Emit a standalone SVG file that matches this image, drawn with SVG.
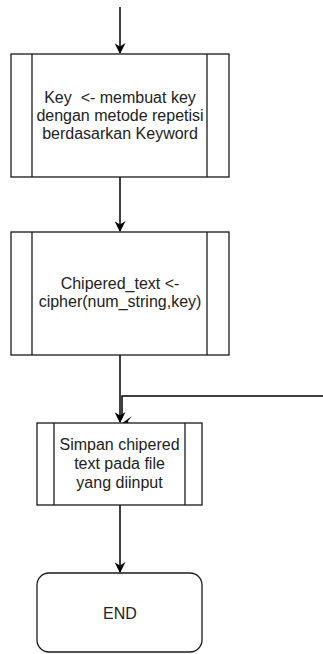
<svg xmlns="http://www.w3.org/2000/svg" width="323" height="654" viewBox="0 0 323 654">
<defs>
<style>
.box{fill:#fff;stroke:#1a1a1a;stroke-width:1.3}
.in{stroke:#1a1a1a;stroke-width:1.3}
.t{font-family:"Liberation Sans",Arial,sans-serif;font-size:16px;fill:#222;text-anchor:middle}
.c{fill:none;stroke:#000;stroke-width:1.5}
</style>
<marker id="ah" viewBox="0 0 10 10" refX="9" refY="5" markerWidth="11" markerHeight="11" markerUnits="userSpaceOnUse" orient="auto">
<path d="M0,0 L10,5 L0,10 L3,5 Z" fill="#000"/>
</marker>
</defs>
<rect width="323" height="654" fill="#fff"/>
<g id="connectors">
<path class="c" d="M120,7 L120,53" marker-end="url(#ah)"/>
<path class="c" d="M120,177 L120,231" marker-end="url(#ah)"/>
<path class="c" d="M120,355 L120,422" marker-end="url(#ah)"/>
<path class="c" d="M323,396 L122,396 L122,418"/>
<polygon points="121,424 132,416 128,421 130,429" fill="#000"/>
<path class="c" d="M120,505 L120,572" marker-end="url(#ah)"/>
</g>
<g id="node1">
<rect class="box" x="11" y="54" width="218" height="123"/>
<line class="in" x1="32" y1="54" x2="32" y2="177"/>
<line class="in" x1="207" y1="54" x2="207" y2="177"/>
<text class="t" x="120" y="103">Key &#160;&lt;- membuat key</text>
<text class="t" x="120" y="121">dengan metode repetisi</text>
<text class="t" x="120" y="139">berdasarkan Keyword</text>
</g>
<g id="node2">
<rect class="box" x="11" y="232" width="218" height="123"/>
<line class="in" x1="32" y1="232" x2="32" y2="355"/>
<line class="in" x1="207" y1="232" x2="207" y2="355"/>
<text class="t" x="120" y="289">Chipered_text &lt;-</text>
<text class="t" x="120" y="307">cipher(num_string,key)</text>
</g>
<g id="node3">
<rect class="box" x="37" y="423" width="165" height="82"/>
<line class="in" x1="54" y1="423" x2="54" y2="505"/>
<line class="in" x1="185" y1="423" x2="185" y2="505"/>
<text class="t" x="119.5" y="450">Simpan chipered</text>
<text class="t" x="119.5" y="469">text pada file</text>
<text class="t" x="119.5" y="488">yang diinput</text>
</g>
<g id="end">
<rect class="box" x="37" y="573" width="165" height="79" rx="12" ry="12"/>
<text class="t" x="120" y="619">END</text>
</g>
</svg>
